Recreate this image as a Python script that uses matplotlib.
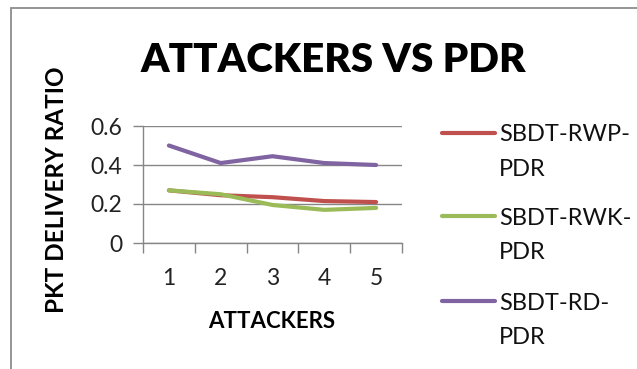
import matplotlib
matplotlib.use('Agg')
import matplotlib.pyplot as plt
import matplotlib.patches as patches
from matplotlib.lines import Line2D
from matplotlib.ticker import FixedLocator

# ---- data ----
attackers = [1, 2, 3, 4, 5]
rwp_pdr = [0.27, 0.245, 0.235, 0.215, 0.21]
rwk_pdr = [0.27, 0.25, 0.195, 0.17, 0.18]
rd_pdr = [0.50, 0.41, 0.445, 0.41, 0.40]
series_names = [('SBDT-RWP-', 'PDR'), ('SBDT-RWK-', 'PDR'), ('SBDT-RD-', 'PDR')]
series_colors = ['#c0504d', '#9bbb59', '#8064a2']
y_ticks = [0, 0.2, 0.4, 0.6]

plt.rcParams['font.family'] = ['Lato', 'DejaVu Sans']

W, H = 637, 369
fig = plt.figure(figsize=(W / 100, H / 100), dpi=100)


def fx(px):
    return px / W


def fy(py):
    return 1 - py / H


# outer frame of the chart object (runs off right/bottom edge)
frame = patches.Rectangle((fx(10.5), -0.1), 1.2, fy(8.5) + 0.1,
                          transform=fig.transFigure, fill=False,
                          edgecolor='#8c8c8c', linewidth=1.3)
fig.add_artist(frame)

ax = fig.add_axes([fx(143), fy(243), (402 - 143) / W, 117 / H])

for vals, col in zip([rwp_pdr, rwk_pdr, rd_pdr], series_colors):
    ax.plot(attackers, vals, color=col, linewidth=3.0, solid_capstyle='round', zorder=3)

ax.set_xlim(0.5, 5.5)
ax.set_ylim(0, 0.6)
ax.set_yticks(y_ticks)
ax.set_yticklabels(['0', '0.2', '0.4', '0.6'])
ax.set_xticks(attackers)
ax.xaxis.set_minor_locator(FixedLocator([0.5, 1.5, 2.5, 3.5, 4.5, 5.5]))
ax.tick_params(axis='x', which='major', length=0, pad=18, labelsize=16.5,
               labelcolor='#222222')
ax.tick_params(axis='x', which='minor', length=7, width=1, color='#868686')
ax.tick_params(axis='y', length=7, width=1, color='#868686', labelsize=16.5, pad=8,
               labelcolor='#222222')

ax.grid(axis='y', color='#868686', linewidth=1)
ax.set_axisbelow(True)
for s in ['top', 'right']:
    ax.spines[s].set_visible(False)
for s in ['left', 'bottom']:
    ax.spines[s].set_color('#868686')
    ax.spines[s].set_linewidth(1)

fig.text(fx(333), fy(61), 'ATTACKERS VS PDR', ha='center', va='center',
         fontsize=29, fontweight='heavy')
fig.text(fx(57), fy(190), 'PKT DELIVERY RATIO', rotation=90, ha='center',
         va='center', fontsize=17.5, fontweight='bold')
fig.text(fx(272), fy(321.5), 'ATTACKERS', ha='center', va='center',
         fontsize=16, fontweight='bold')

# legend drawn by hand so the key line sits on the first text line
legend_rows = [132.5, 216, 301]
for (l1, l2), col, ly in zip(series_names, series_colors, legend_rows):
    fig.add_artist(Line2D([fx(442), fx(495)], [fy(ly), fy(ly)], color=col,
                          linewidth=3.0, solid_capstyle='round',
                          transform=fig.transFigure))
    fig.text(fx(499), fy(ly + 9), l1, ha='left', va='baseline', fontsize=17,
             color='#111111')
    fig.text(fx(499), fy(ly + 43), l2, ha='left', va='baseline', fontsize=17,
             color='#111111')

fig.savefig('out.png', dpi=100)
